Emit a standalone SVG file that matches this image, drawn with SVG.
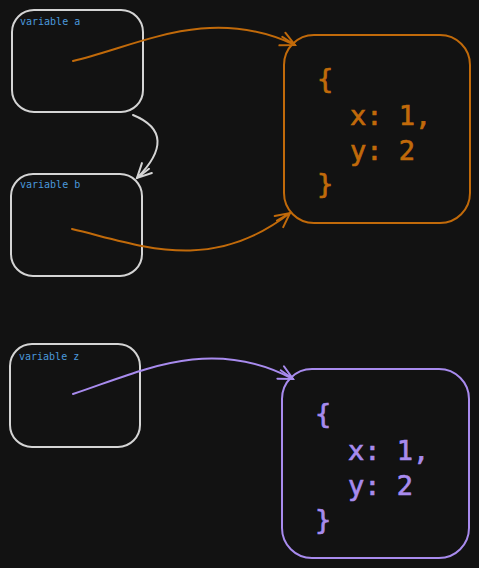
<svg xmlns="http://www.w3.org/2000/svg" width="479" height="568" viewBox="0 0 479 568">
<style>
.var{fill:none;stroke:#d4d4d4;stroke-width:2}
.lbl{font-family:"DejaVu Sans Mono",monospace;font-size:10px;fill:#4a98dc}
.obj{font-family:"DejaVu Sans Mono",monospace;font-size:27px;stroke-width:0.7}
.orange{stroke:#c16a0a}
.purple{stroke:#a88bee}
.conn path{fill:none;stroke-width:2;stroke-linecap:round}
</style>
<defs>
<marker id="ao" markerWidth="20" markerHeight="20" refX="0" refY="0" viewBox="-16 -10 20 20" orient="auto" markerUnits="userSpaceOnUse"><path d="M-14 -7 L0 0 L-14 7 M-15 -2 L0 0" fill="none" stroke="#c16a0a" stroke-width="2" stroke-linecap="round"/></marker>
<marker id="ap" markerWidth="20" markerHeight="20" refX="0" refY="0" viewBox="-16 -10 20 20" orient="auto" markerUnits="userSpaceOnUse"><path d="M-14 -7 L0 0 L-14 7 M-15 -2 L0 0" fill="none" stroke="#a88bee" stroke-width="2" stroke-linecap="round"/></marker>
<marker id="aw" markerWidth="20" markerHeight="20" refX="0" refY="0" viewBox="-16 -10 20 20" orient="auto" markerUnits="userSpaceOnUse"><path d="M-14 -7 L0 0 L-14 7 M-15 -2 L0 0" fill="none" stroke="#d4d4d4" stroke-width="2" stroke-linecap="round"/></marker>
</defs>
<rect width="479" height="568" fill="#121212"/>
<g id="var-a"><rect class="var" x="12" y="10" width="131" height="102" rx="22"/><text class="lbl" x="20" y="25">variable a</text></g>
<g id="var-b"><rect class="var" x="11" y="174" width="131" height="102" rx="22"/><text class="lbl" x="20" y="188">variable b</text></g>
<g id="var-z"><rect class="var" x="10" y="344" width="130" height="103" rx="22"/><text class="lbl" x="19" y="360">variable z</text></g>
<g id="obj-1"><rect x="284" y="35" width="186" height="188" rx="30" fill="none" stroke="#c16a0a" stroke-width="2"/>
<text class="obj" fill="#c16a0a" stroke="#c16a0a"><tspan x="317" y="88">{</tspan><tspan x="350" y="125">x: 1,</tspan><tspan x="350" y="160">y: 2</tspan><tspan x="317" y="193">}</tspan></text></g>
<g id="obj-2"><rect x="282" y="369" width="187" height="189" rx="30" fill="none" stroke="#a88bee" stroke-width="2"/>
<text class="obj" fill="#a88bee" stroke="#a88bee"><tspan x="315" y="423">{</tspan><tspan x="348" y="460">x: 1,</tspan><tspan x="348" y="495">y: 2</tspan><tspan x="315" y="529">}</tspan></text></g>
<g id="connectors" class="conn">
<path class="orange" d="M73 61 C 140 45, 210 5, 295 45" marker-end="url(#ao)"/>
<path class="orange" d="M72 229 C 140 245, 210 275, 290 213" marker-end="url(#ao)"/>
<path d="M133 115 C 165 128, 165 150, 137 178" stroke="#d4d4d4" marker-end="url(#aw)"/>
<path class="purple" d="M73 394 C 140 372, 210 335, 293 379" marker-end="url(#ap)"/>
</g>
</svg>
